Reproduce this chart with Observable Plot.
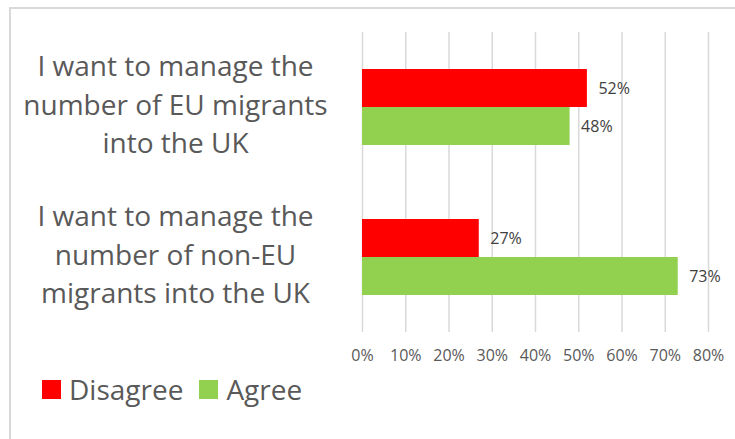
<!DOCTYPE html>
<html>
<head>
<meta charset="utf-8">
<script src="https://cdn.jsdelivr.net/npm/d3@7"></script>
<script src="https://cdn.jsdelivr.net/npm/@observablehq/plot@0.6"></script>
<style>
  html, body { margin: 0; padding: 0; background: #fff; }
  body { width: 735px; height: 439px; overflow: hidden; position: relative; font-family: "Open Sans", sans-serif; }
  #frame { position: absolute; left: 9px; top: 7px; width: 800px; height: 500px; border: 2px solid #d9d9d9; box-sizing: border-box; }
  #chart { position: absolute; left: 0; top: 0; }
  #legend { position: absolute; left: 42px; top: 370px; display: flex; align-items: center; font-size: 28px; color: #595959; }
  .item { display: flex; align-items: center; margin-right: 16px; }
  .sw { width: 19px; height: 19px; margin-right: 8px; display: inline-block; }
</style>
</head>
<body>
<div id="frame"></div>
<div id="chart"></div>
<div id="legend"></div>
<script>
const questions = [
  "I want to manage the\nnumber of EU migrants\ninto the UK",
  "I want to manage the\nnumber of non-EU\nmigrants into the UK"
];
const series = ["Disagree", "Agree"];
const disagree = [0.52, 0.27];
const agree = [0.48, 0.73];
const colors = ["#FF0000", "#92D050"];
const xTicks = [0, 0.1, 0.2, 0.3, 0.4, 0.5, 0.6, 0.7, 0.8];

const data = questions.flatMap((q, i) => [
  {q, s: series[0], v: disagree[i]},
  {q, s: series[1], v: agree[i]}
]);
const pct = d3.format(".0%");

const chart = Plot.plot({
  width: 735,
  height: 370,
  marginLeft: 362,
  marginRight: 27,
  marginTop: 31,
  marginBottom: 38,
  style: {fontFamily: "Open Sans", background: "transparent", overflow: "visible"},
  x: {domain: [0, 0.8]},
  fy: {domain: questions, padding: 0, axis: null},
  y: {domain: series, paddingInner: 0, paddingOuter: 0.93, axis: null},
  color: {domain: series, range: colors},
  marks: [
    Plot.gridX(xTicks, {stroke: "#d9d9d9", strokeOpacity: 1, strokeWidth: 1.5}),
    Plot.axisX(xTicks, {tickSize: 0, tickPadding: 17, fontSize: 16, fill: "#595959", tickFormat: pct, label: null}),
    Plot.barX(data, {x: "v", y: "s", fy: "q", fill: "s"}),
    Plot.text(data, {x: "v", y: "s", fy: "q", text: d => pct(d.v), dx: 11, textAnchor: "start", fontSize: 16, fill: "#404040"}),
    Plot.text(questions, {fy: d => d, text: d => d, frameAnchor: "left", dx: -187, dy: -5, textAnchor: "middle", fontSize: 28, lineHeight: 1.37, fill: "#595959"})
  ]
});
document.getElementById("chart").appendChild(chart);

const legend = document.getElementById("legend");
series.forEach((s, i) => {
  const item = document.createElement("div");
  item.className = "item";
  const sw = document.createElement("span");
  sw.className = "sw";
  sw.style.background = colors[i];
  const t = document.createElement("span");
  t.textContent = s;
  item.appendChild(sw);
  item.appendChild(t);
  legend.appendChild(item);
});
</script>
</body>
</html>
